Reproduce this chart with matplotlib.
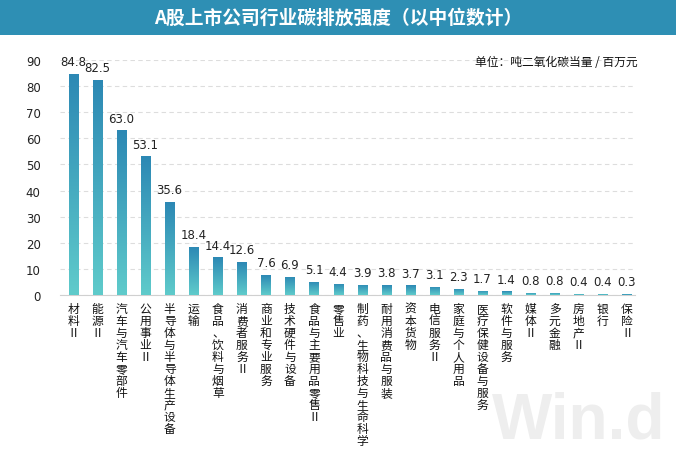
import matplotlib
matplotlib.use("Agg")
import matplotlib.pyplot as plt
import numpy as np
from matplotlib.colors import LinearSegmentedColormap
from matplotlib.patches import Rectangle

plt.rcParams['font.family'] = ['Noto Sans CJK SC', 'DejaVu Sans']

categories = ["材料Ⅱ", "能源Ⅱ", "汽车与汽车零部件", "公用事业Ⅱ", "半导体与半导体生产设备",
              "运输", "食品、饮料与烟草", "消费者服务Ⅱ", "商业和专业服务", "技术硬件与设备",
              "食品与主要用品零售Ⅱ", "零售业", "制药、生物科技与生命科学", "耐用消费品与服装",
              "资本货物", "电信服务Ⅱ", "家庭与个人用品", "医疗保健设备与服务", "软件与服务",
              "媒体Ⅱ", "多元金融", "房地产Ⅱ", "银行", "保险Ⅱ"]
values = [84.8, 82.5, 63.0, 53.1, 35.6, 18.4, 14.4, 12.6, 7.6, 6.9, 5.1, 4.4, 3.9, 3.8,
          3.7, 3.1, 2.3, 1.7, 1.4, 0.8, 0.8, 0.4, 0.4, 0.3]
yticks = [0, 10, 20, 30, 40, 50, 60, 70, 80, 90]

title = "A股上市公司行业碳排放强度（以中位数计）"
unit = "单位：吨二氧化碳当量 / 百万元"

fig = plt.figure(figsize=(6.76, 4.60), dpi=100)
fig.patch.set_facecolor("white")

# title bar
fig.patches.append(Rectangle((0, 1 - 36/460), 1, 36/460, transform=fig.transFigure,
                             facecolor="#2E8FB4", edgecolor="none", zorder=0))
fig.text(0.5, 1 - 18/460, title, color="white", fontsize=13.5, fontweight="bold",
         ha="center", va="center")

# watermark
fig.text(579/676, 1 - 422/460, "Win.d", color="#EEEEEE", fontsize=46, ha="center",
         va="center", family=["Liberation Sans"], fontweight="bold", zorder=0)

ax = fig.add_axes([0.089, 0.3565, 0.85, 0.511])
ax.set_facecolor("none")
x = np.arange(len(categories))
w = 0.38
cmap = LinearSegmentedColormap.from_list("g", ["#5FCBCB", "#2C88B4"])
grad = np.linspace(0, 1, 256).reshape(-1, 1)
bars = ax.bar(x, values, width=w, color="none", edgecolor="none", zorder=3)
for b in bars:
    bx, by = b.get_x(), b.get_y()
    bw, bh = b.get_width(), b.get_height()
    im = ax.imshow(grad, cmap=cmap, aspect="auto", origin="lower",
                   extent=[bx, bx + bw, by, by + bh], zorder=3)
    im.set_clip_path(b)

for xi, v in zip(x, values):
    ax.text(xi, v + 2.2, f"{v:.1f}", ha="center", va="bottom", fontsize=8.5,
            color="#222222", family=["DejaVu Sans"])

ax.set_xlim(-0.55, len(categories) - 0.67)
ax.set_ylim(0, 90)
ax.set_yticks(yticks)
ax.set_yticklabels([str(t) for t in yticks], fontsize=8.5, color="#222222",
                   family=["DejaVu Sans"])
ax.set_xticks(x)
ax.set_xticklabels(["\n".join(c) for c in categories], fontsize=8.5, color="#111111",
                   va="top", linespacing=0.9)
ax.tick_params(axis="both", length=0, pad=5)
ax.tick_params(axis="y", pad=14)
for s in ["top", "right", "left"]:
    ax.spines[s].set_visible(False)
ax.spines["bottom"].set_color("#D0D0D0")
ax.yaxis.grid(True, color="#DDDDDD", linestyle=(0, (4, 3)), linewidth=0.8)
ax.set_axisbelow(True)

fig.text(0.943, 1 - 62/460, unit, fontsize=8.5, ha="right", va="center", color="#111111")

fig.savefig("out.png", dpi=100, facecolor="white")
